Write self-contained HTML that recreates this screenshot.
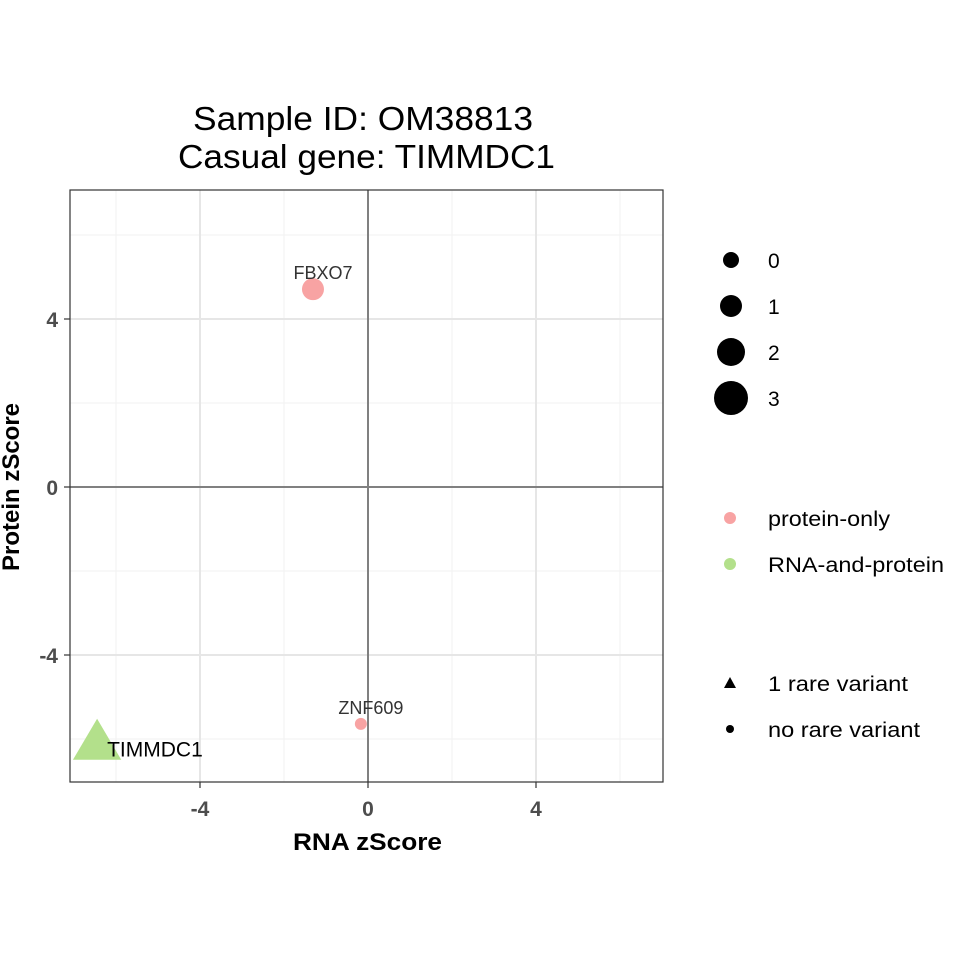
<!DOCTYPE html>
<html><head><meta charset="utf-8"><style>body{margin:0;background:#fff}svg{font-family:"Liberation Sans",sans-serif}</style></head>
<body>
<svg id="c" width="960" height="960">
<text x="193" y="130" font-size="33" textLength="340" lengthAdjust="spacingAndGlyphs">Sample ID: OM38813</text>
<text x="178" y="168" font-size="33" textLength="377" lengthAdjust="spacingAndGlyphs">Casual gene: TIMMDC1</text>
<g id="grid"></g>
<g id="marks"></g>
<rect x="70" y="190" width="593" height="592" fill="none" stroke="#333" stroke-width="1.2"/>
<g id="axes"></g>
<text x="293" y="850" font-size="24" font-weight="bold" textLength="149" lengthAdjust="spacingAndGlyphs">RNA zScore</text>
<text transform="translate(19,487) rotate(-90)" font-size="24" font-weight="bold" text-anchor="middle">Protein zScore</text>
<g font-size="21">
<circle cx="731" cy="260" r="8" fill="#000"/><text x="768" y="268">0</text>
<circle cx="731" cy="306" r="11" fill="#000"/><text x="768" y="314">1</text>
<circle cx="731" cy="352" r="14" fill="#000"/><text x="768" y="360">2</text>
<circle cx="731" cy="398" r="17" fill="#000"/><text x="768" y="406">3</text>
</g>
<g font-size="21">
<circle cx="730" cy="518" r="6" fill="#F8A3A3"/><text x="768" y="526" textLength="122" lengthAdjust="spacingAndGlyphs">protein-only</text>
<circle cx="730" cy="564" r="6" fill="#B3E08B"/><text x="768" y="572" textLength="176" lengthAdjust="spacingAndGlyphs">RNA-and-protein</text>
</g>
<g font-size="21">
<polygon points="730,677 736,688 724,688" fill="#000"/><text x="768" y="691" textLength="140" lengthAdjust="spacingAndGlyphs">1 rare variant</text>
<circle cx="730" cy="729" r="4" fill="#000"/><text x="768" y="737" textLength="152" lengthAdjust="spacingAndGlyphs">no rare variant</text>
</g>
</svg>
<script>
const genes=["FBXO7","ZNF609","TIMMDC1"];
const rnaZ=[-1.31,-0.17,-6.45];
const protZ=[4.71,-5.64,-6.15];
const sizes=[1,0,3];
const groups=["protein-only","protein-only","RNA-and-protein"];
const variants=[0,0,1];
const xTicks=[-4,0,4];
const yTicks=[-4,0,4];
const minorTicks=[-6,-2,2,6];
const X=v=>368+42*v, Y=v=>487-42*v;
const NS="http://www.w3.org/2000/svg";
function mk(p,t,a){const e=document.createElementNS(NS,t);for(const k in a)e.setAttribute(k,a[k]);document.getElementById(p).appendChild(e);return e;}
minorTicks.forEach(v=>{
 let e=mk("grid","line",{x1:X(v),x2:X(v),y1:190,y2:782,stroke:"#f2f2f2","stroke-width":1});
 
 
 e=mk("grid","line",{x1:70,x2:663,y1:Y(v),y2:Y(v),stroke:"#f2f2f2","stroke-width":1});
 
 
});
xTicks.forEach(v=>{
 let e=mk("grid","line",{x1:X(v),x2:X(v),y1:190,y2:782,stroke:"#e6e6e6","stroke-width":2});
 
 
 e=mk("axes","line",{x1:X(v),x2:X(v),y1:782,y2:788,stroke:"#333","stroke-width":1.2});
 
 
 e=mk("axes","text",{x:X(v),y:816,"font-size":21,"font-weight":"bold",fill:"#4d4d4d","text-anchor":"middle"});e.textContent=v;
 
 
});
yTicks.forEach(v=>{
 let e=mk("grid","line",{x1:70,x2:663,y1:Y(v),y2:Y(v),stroke:"#e6e6e6","stroke-width":2});
 
 
 e=mk("axes","line",{x1:64,x2:70,y1:Y(v),y2:Y(v),stroke:"#333","stroke-width":1.2});
 
 
 e=mk("axes","text",{x:58,y:Y(v)+8,"font-size":21,"font-weight":"bold",fill:"#4d4d4d","text-anchor":"end"});e.textContent=v;
 
 
});
let z=mk("grid","line",{x1:X(0),x2:X(0),y1:190,y2:782,stroke:"#808080","stroke-width":2});


z=mk("grid","line",{x1:70,x2:663,y1:Y(0),y2:Y(0),stroke:"#808080","stroke-width":2});


const rad=[6,11,14,17];
genes.forEach((g,i)=>{
 const cx=X(rnaZ[i]),cy=Y(protZ[i]),col=groups[i]==="protein-only"?"#F8A3A3":"#B3E08B";
 let e;
 if(variants[i]){const s=rad[sizes[i]]*1.42;
  e=mk("marks","polygon",{points:`${cx},${cy-s*1.1} ${cx+s*1.0},${cy+s*0.6} ${cx-s*1.0},${cy+s*0.6}`,fill:col});}
 else e=mk("marks","circle",{cx,cy,r:rad[sizes[i]],fill:col});
 
 
 let t;
 if(g==="TIMMDC1") t=mk("marks","text",{x:cx+10,y:cy+11,"font-size":21,fill:"#000"});
 else t=mk("marks","text",{x:cx+10,y:cy-10,"font-size":18,fill:"#333","text-anchor":"middle"});
 t.textContent=g;
 
 
});
</script>
</body></html>
